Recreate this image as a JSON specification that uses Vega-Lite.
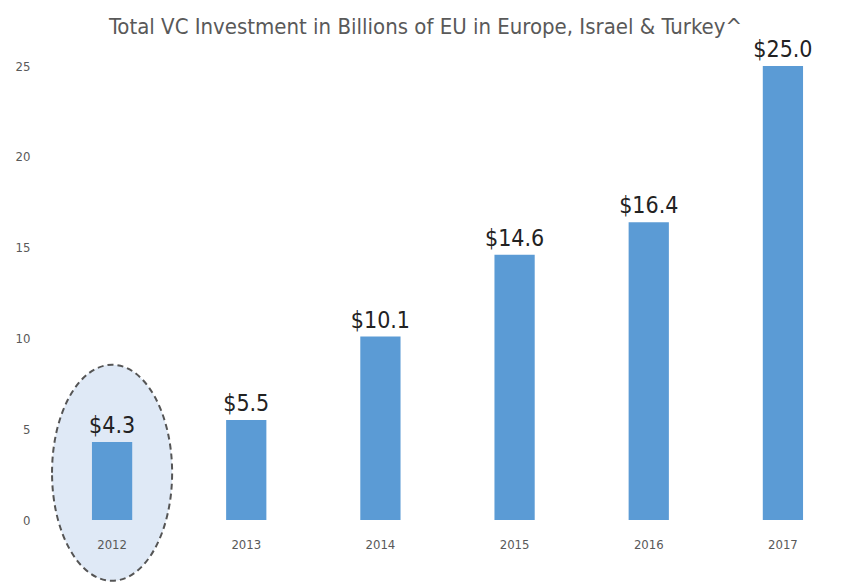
{
  "$schema": "https://vega.github.io/schema/vega-lite/v6.json",
  "width": 805,
  "height": 454,
  "autosize": "none",
  "padding": {"left": 45, "top": 66, "right": 0, "bottom": 64},
  "background": "white",
  "title": {
    "text": "Total VC Investment in Billions of EU in Europe, Israel & Turkey^",
    "font": "Liberation Sans Narrow, DejaVu Sans Condensed, Roboto Condensed, sans-serif",
    "fontSize": 22,
    "fontWeight": "normal",
    "color": "#595959",
    "anchor": "middle",
    "dx": -22,
    "offset": 0
  },
  "config": {
    "view": {"stroke": null},
    "font": "Liberation Sans Narrow, DejaVu Sans Condensed, sans-serif"
  },
  "data": {
    "values": [
      {"year": "2012", "value": 4.3},
      {"year": "2013", "value": 5.5},
      {"year": "2014", "value": 10.1},
      {"year": "2015", "value": 14.6},
      {"year": "2016", "value": 16.4},
      {"year": "2017", "value": 25.0}
    ]
  },
  "encoding": {
    "x": {
      "field": "year",
      "type": "ordinal",
      "title": null,
      "scale": {"paddingInner": 0.7, "paddingOuter": 0.35},
      "axis": {
        "labelAngle": 0,
        "domain": false,
        "ticks": false,
        "labelPadding": 18,
        "labelFontSize": 13,
        "labelColor": "#595959",
        "zindex": 1,
        "labelFont": "Liberation Sans Narrow, DejaVu Sans Condensed, sans-serif"
      }
    }
  },
  "layer": [
    {
      "transform": [{"filter": "datum.year === '2012'"}],
      "mark": {
        "type": "point",
        "shape": "M -0.556 0 A 0.556 1 0 1 1 0.556 0 A 0.556 1 0 1 1 -0.556 0 Z",
        "filled": true,
        "fill": "#c9dbf0",
        "fillOpacity": 0.6,
        "stroke": "#555555",
        "strokeOpacity": 1,
        "strokeWidth": 2,
        "strokeDash": [6, 4],
        "size": 46656
      },
      "encoding": {
        "y": {"datum": 2.6, "type": "quantitative", "title": null, "scale": {"domain": [0, 25], "nice": false}}
      }
    },
    {
      "mark": {"type": "bar", "color": "#5b9bd5"},
      "encoding": {
        "y": {
          "field": "value",
          "type": "quantitative",
          "title": null,
          "scale": {"domain": [0, 25], "nice": false},
          "axis": {
            "values": [0, 5, 10, 15, 20, 25],
            "domain": false,
            "ticks": false,
            "labelPadding": 15,
            "labelFontSize": 13,
            "labelColor": "#595959",
            "gridColor": "#e3e3e3",
            "gridWidth": 2,
            "labelFont": "Liberation Sans Narrow, DejaVu Sans Condensed, sans-serif"
          }
        }
      }
    },
    {
      "mark": {
        "type": "text",
        "baseline": "bottom",
        "dy": -4,
        "fontSize": 23,
        "color": "#222222",
        "font": "Liberation Sans Narrow, DejaVu Sans Condensed, sans-serif"
      },
      "encoding": {
        "y": {"field": "value", "type": "quantitative", "title": null, "scale": {"domain": [0, 25], "nice": false}},
        "text": {"field": "value", "type": "quantitative", "format": "$.1f"}
      }
    }
  ]
}
